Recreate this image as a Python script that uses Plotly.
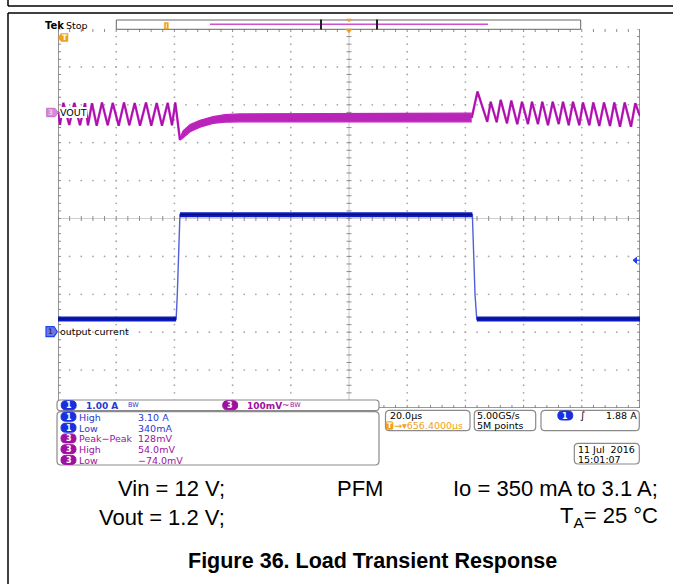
import plotly.graph_objects as go
import numpy as np

time_per_div_us = 20.0          # horizontal scale
ch1_scale_A = 1.0               # output current, A/div
ch3_scale_mV = 100.0            # VOUT, mV/div
ch1_offset_div = -3.0           # channel-1 ground marker position (div from centre)
ch3_offset_div = 2.81           # channel-3 marker position (div from centre)

# VOUT, light load (PFM ripple) before the load step: vertices (us, mV)
vout1_t = [0.0, 0.69, 1.82, 3.88, 5.60, 7.56, 9.28, 10.31, 11.68, 13.30, 15.12, 17.08, 18.80,
           20.86, 22.68, 24.50, 26.36, 28.18, 30.24, 32.06, 33.92, 35.74, 37.70, 39.18, 40.31, 41.92]
vout1_mV = [0, -34, 24, -34, 24, -35, 23, -35, 23, -36, 25, -35, 24,
            -36, 25, -35, 24, -36, 25, -36, 24, -36, 24, -35, 25, -74]

# VOUT during heavy load: ripple envelope (us, upper mV, lower mV)
band_t = [41.92, 43.0, 45.4, 48.8, 53.3, 57.4, 62.5, 83.2, 117.5, 142.16]
band_hi_mV = [-68, -50, -33, -22, -12, -7, -5, -4, -3, -3]
band_lo_mV = [-74, -68, -52, -40, -30, -27, -26, -26, -26, -26]

# VOUT after the load is released: vertices (us, mV)
vout2_t = [142.16, 144.16, 147.52, 148.69, 150.75, 152.13, 154.29, 155.77, 157.83, 159.45, 161.51,
           162.88, 164.94, 166.42, 168.38, 170.00, 172.06, 173.54, 175.50, 176.97, 179.14, 180.41,
           182.58, 183.95, 186.01, 187.63, 189.69, 191.17, 193.13, 194.74, 196.91, 198.38, 200.0]
vout2_mV = [-16, 54, -26, 27, -27, 32, -30, 30, -32, 27, -32,
            27, -32, 27, -35, 27, -32, 27, -35, 27, -35, 25,
            -35, 25, -37, 25, -37, 25, -39, 25, -39, 23, -11]

# Output current (us, A)
iout_t = [0.0, 40.6, 41.0, 41.5, 41.9, 142.4, 142.8, 143.3, 143.9, 200.0]
iout_A = [0.35, 0.35, 1.0, 2.4, 3.10, 3.10, 2.3, 1.0, 0.35, 0.35]

# Measurement readouts
meas_ch = ["1", "1", "3", "3", "3"]
meas_name = ["High", "Low", "Peak\u2212Peak", "High", "Low"]
meas_val = ["3.10 A", "340mA", "128mV", "54.0mV", "\u221274.0mV"]

# ---------------- geometry ----------------
W, H = 673, 584
GX0, GX1, GY0, GY1 = 58, 640, 29, 408
NX, NY = 10, 10
T_SPAN = time_per_div_us * NX
dx_px = T_SPAN / (GX1 - GX0)
dy_px = NY / (GY1 - GY0)

C1 = '#1a2ee0'
C1T = '#2a3ad0'
C3 = '#a0109f'
ORANGE = '#f0a020'
GRID = '#a8a8a8'

def px(x):
    return x / W

def py(y):
    return 1 - y / H

def P(x, y):
    return f"{px(x):.5f},{py(y):.5f}"

def poly(pts):
    return "M " + " L ".join(P(x, y) for x, y in pts) + " Z"

def rrect(x0, y0, x1, y1, r):
    return ("M " + P(x0 + r, y0) + " L " + P(x1 - r, y0) + " Q " + P(x1, y0) + " " + P(x1, y0 + r)
            + " L " + P(x1, y1 - r) + " Q " + P(x1, y1) + " " + P(x1 - r, y1)
            + " L " + P(x0 + r, y1) + " Q " + P(x0, y1) + " " + P(x0, y1 - r)
            + " L " + P(x0, y0 + r) + " Q " + P(x0, y0) + " " + P(x0 + r, y0) + " Z")

shapes = []
annos = []

def sh_path(path, fill=None, line='black', lw=1, layer='above'):
    shapes.append(dict(type='path', path=path, xref='paper', yref='paper',
                       fillcolor=fill if fill else 'rgba(0,0,0,0)',
                       line=dict(color=line, width=lw), layer=layer))

def sh_line(x0, y0, x1, y1, color='black', lw=1):
    shapes.append(dict(type='line', xref='paper', yref='paper', x0=px(x0), y0=py(y0),
                       x1=px(x1), y1=py(y1), line=dict(color=color, width=lw), layer='above'))

def txt(x, y, s, size=9.5, color='black', xa='left', ya='middle', family='DejaVu Sans', bg=None):
    d = dict(x=px(x), y=py(y), xref='paper', yref='paper', text=s, showarrow=False,
             xanchor=xa, yanchor=ya, borderpad=0, borderwidth=0,
             font=dict(size=size, color=color, family=family))
    if bg:
        d['bgcolor'] = bg
    annos.append(d)

def pill(xc, yc, label, color, w=15, h=9):
    sh_path(rrect(xc - w / 2, yc - h / 2, xc + w / 2, yc + h / 2, h / 2), fill=color, line=color, lw=1)
    txt(xc, yc + 0.5, f"<b>{label}</b>", size=8, color='white', xa='center')

fig = go.Figure()

# ---------------- graticule ----------------
t_minor = np.round(np.arange(0, T_SPAN + 1e-9, time_per_div_us / 5), 6)
y_minor = np.round(np.arange(-NY / 2, NY / 2 + 1e-9, 0.2), 6)
dots_x, dots_y = [], []
for k in range(1, NX):
    gx = k * time_per_div_us
    if k == NX // 2:
        continue
    for yv in y_minor[1:-1]:
        dots_x.append(gx); dots_y.append(yv)
for k in range(-NY // 2 + 1, NY // 2):
    if k == 0:
        continue
    for tv in t_minor[1:-1]:
        dots_x.append(tv); dots_y.append(k)
fig.add_trace(go.Scatter(x=dots_x, y=dots_y, mode='markers',
                         marker=dict(size=1.8, color=GRID), hoverinfo='skip', showlegend=False))

# centre lines
fig.add_trace(go.Scatter(x=[0, T_SPAN, None, T_SPAN / 2, T_SPAN / 2], y=[0, 0, None, -NY / 2, NY / 2],
                         mode='lines', line=dict(color='#cfcfcf', width=1.2),
                         hoverinfo='skip', showlegend=False, cliponaxis=False))
tx, ty = [], []
tk = 2.5
for tv in t_minor:
    tx += [tv, tv, None]; ty += [-tk * dy_px, tk * dy_px, None]
for yv in y_minor:
    tx += [T_SPAN / 2 - tk * dx_px, T_SPAN / 2 + tk * dx_px, None]; ty += [yv, yv, None]
# border ticks (inward)
bl = 3
for yv in y_minor:
    tx += [0, bl * dx_px, None, T_SPAN - bl * dx_px, T_SPAN, None]
    ty += [yv, yv, None, yv, yv, None]
for tv in t_minor:
    tx += [tv, tv, None, tv, tv, None]
    ty += [NY / 2, NY / 2 - bl * dy_px, None, -NY / 2, -NY / 2 + bl * dy_px, None]
fig.add_trace(go.Scatter(x=tx, y=ty, mode='lines', line=dict(color='#8c8c8c', width=1),
                         hoverinfo='skip', showlegend=False, cliponaxis=False))
# borders
fig.add_trace(go.Scatter(x=[0, 0, T_SPAN, T_SPAN], y=[NY / 2, -NY / 2, -NY / 2, NY / 2],
                         mode='lines', line=dict(color='#7a7a7a', width=1.6),
                         hoverinfo='skip', showlegend=False, cliponaxis=False))

# ---------------- waveforms ----------------
def ch1_div(v):
    return [ch1_offset_div + a / ch1_scale_A for a in v]

def ch3_div(v):
    return [ch3_offset_div + m / ch3_scale_mV for m in v]

# current: thin full trace + thick flat segments
fig.add_trace(go.Scatter(x=iout_t, y=ch1_div(iout_A), mode='lines',
                         line=dict(color='#5060d8', width=1.4), hoverinfo='skip', showlegend=False))
fx, fy = [], []
for i in range(len(iout_t) - 1):
    if iout_A[i] == iout_A[i + 1]:
        fx += [iout_t[i], iout_t[i + 1], None]
        fy += ch1_div([iout_A[i], iout_A[i + 1]]) + [None]
fig.add_trace(go.Scatter(x=fx, y=fy, mode='lines', line=dict(color='#0c1cc0', width=5),
                         hoverinfo='skip', showlegend=False, cliponaxis=False))
fig.add_trace(go.Scatter(x=fx, y=fy, mode='lines', line=dict(color='#000a80', width=1),
                         hoverinfo='skip', showlegend=False, cliponaxis=False))

# VOUT
MAG = '#c81ec8'
MAGD = '#7a0f7a'
fig.add_trace(go.Scatter(x=band_t, y=ch3_div(band_lo_mV), mode='lines',
                         line=dict(color=MAG, width=1.2), hoverinfo='skip', showlegend=False))
fig.add_trace(go.Scatter(x=band_t, y=ch3_div(band_hi_mV), mode='lines', fill='tonexty',
                         fillcolor='#b826b8', line=dict(color=MAG, width=1.2),
                         hoverinfo='skip', showlegend=False))
for tt, vv in ((vout1_t, vout1_mV), (vout2_t, vout2_mV)):
    fig.add_trace(go.Scatter(x=tt, y=ch3_div(vv), mode='lines', line=dict(color=MAG, width=2.4),
                             hoverinfo='skip', showlegend=False, cliponaxis=False))
    fig.add_trace(go.Scatter(x=tt, y=ch3_div(vv), mode='lines', line=dict(color=MAGD, width=0.6),
                             hoverinfo='skip', showlegend=False, cliponaxis=False))

# ---------------- frame / header ----------------
sh_line(8, 0, 8, 6, lw=1.5)
sh_line(8, 6, 673, 6, lw=1.5)
sh_line(8, 13, 673, 13, lw=1.5)
sh_line(8, 13, 8, 584, lw=1.5)

txt(45, 25, "<b>Tek</b>", size=10)
txt(66, 25, "Stop", size=9.5)

# record bar
sh_path(poly([(116.3, 20), (580.7, 20), (580.7, 29.3), (116.3, 29.3)]), fill='white', line='#666666', lw=1)
sh_line(210, 24.3, 488, 24.3, color='#d050d0', lw=1.5)
sh_line(321, 19.5, 321, 29.5, color='#222222', lw=2)
sh_line(377, 19.5, 377, 29.5, color='#222222', lw=2)
sh_path(poly([(164.3, 22.5), (168.3, 22.5), (168.3, 29), (164.3, 29)]), fill=ORANGE, line=ORANGE, lw=0.5)
sh_line(166.3, 23.5, 166.3, 28, color='white', lw=0.8)
sh_path(poly([(346.5, 19), (351.5, 19), (349, 22)]), fill=ORANGE, line=ORANGE, lw=0.5)
sh_path(poly([(345.5, 29), (352.5, 29), (349, 33)]), fill=ORANGE, line=ORANGE, lw=0.5)

# trigger-position marker (left)
sh_path(poly([(58, 37.5), (61, 33.5), (68, 33.5), (68, 41.5), (61, 41.5)]), fill=ORANGE, line=ORANGE, lw=0.5)
txt(64.5, 37.8, "<b>T</b>", size=7.5, color='white', xa='center')

# channel markers and labels
sh_path(poly([(46.7, 108.3), (55, 108.3), (58.3, 112.5), (55, 116.7), (46.7, 116.7)]),
        fill='#d88ad8', line='#c070c0', lw=1)
txt(51, 112.7, "3", size=7.5, color='#f4e0f4', xa='center')
txt(60, 112.5, "VOUT", size=9.5, bg='white')

sh_path(poly([(46, 326.7), (54, 326.7), (57.3, 331.7), (54, 336.7), (46, 336.7)]),
        fill='#6a78d8', line='#2040ff', lw=1.2)
txt(50.5, 331.9, "1", size=7.5, color='#101060', xa='center')
txt(59.5, 331.5, "output current", size=9.5)

# trigger level marker (right)
sh_path(poly([(633, 260.3), (636.5, 257.3), (636.5, 263.3)]), fill='#2040ff', line='#2040ff', lw=1)
sh_line(636.5, 260.3, 639.5, 260.3, color='#2040ff', lw=1.2)

# ---------------- readout boxes ----------------
BOXC = '#8a8a8a'
sh_path(rrect(57, 400, 379, 410.7, 3.5), fill='white', line=BOXC, lw=1.2)
pill(68.7, 405.3, "1", C1)
txt(86, 405.5, "<b>1.00 A</b>", size=9, color=C1T)
txt(128, 404.8, "BW", size=6.5, color=C1T)
pill(230.2, 405.3, "3", C3)
txt(247, 405.5, "<b>100mV</b>", size=9, color=C3)
txt(282, 405.0, "~", size=9, color=C3)
txt(290, 404.8, "BW", size=6.5, color=C3)

sh_path(rrect(57, 411.7, 379, 465, 4), fill='white', line=BOXC, lw=1.2)
rows_y = [416.7, 427.7, 438.4, 449.2, 459.9]
for yy, ch, nm, vl in zip(rows_y, meas_ch, meas_name, meas_val):
    col = C1 if ch == "1" else C3
    tcol = C1T if ch == "1" else C3
    pill(68.5, yy, ch, col)
    txt(78.5, yy + 0.3, nm, size=9.5, color=tcol)
    txt(137.5, yy + 0.3, vl, size=9.5, color=tcol)

sh_path(rrect(385.5, 410.3, 470, 430.7, 4), fill='white', line=BOXC, lw=1.2)
txt(389.5, 415.7, "20.0\u00b5s", size=9.5)
sh_path(rrect(386, 421.5, 393, 429.5, 1.5), fill=ORANGE, line=ORANGE, lw=0.5)
txt(389.5, 425.7, "<b>T</b>", size=7.5, color='white', xa='center')
txt(393.5, 425.7, "\u2192\u25be656.4000\u00b5s", size=9.5, color=ORANGE)

sh_path(rrect(474.3, 410.3, 535.7, 430.7, 4), fill='white', line=BOXC, lw=1.2)
txt(477.3, 415.7, "5.00GS/s", size=9.5)
txt(477.3, 425.7, "5M points", size=9.5)

sh_path(rrect(541, 410.3, 639.3, 430.7, 4), fill='white', line=BOXC, lw=1.2)
pill(565.3, 415.5, "1", C1)
txt(582.5, 415.7, "<i>\u222b</i>", size=10, xa='center')
txt(637, 415.7, "1.88 A", size=9.5, xa='right')

sh_path(rrect(574.3, 443.3, 639.3, 464, 4), fill='white', line=BOXC, lw=1.2)
txt(578, 449.7, "11 Jul  2016", size=9.5)
txt(578, 459.5, "15:01:07", size=9.5)

# ---------------- caption ----------------
CF = 'Liberation Sans'
txt(225, 488, "Vin = 12 V;", size=22, xa='right', family=CF)
txt(336.5, 488, "PFM", size=22, family=CF)
txt(658, 488, "Io = 350 mA to 3.1 A;", size=22, xa='right', family=CF)
txt(225, 517, "Vout = 1.2 V;", size=22, xa='right', family=CF)
txt(658, 517, "T<sub>A</sub>= 25 \u00b0C", size=22, xa='right', family=CF)
txt(372.5, 561, "<b>Figure 36. Load Transient Response</b>", size=21.5, xa='center', family=CF)

fig.update_layout(
    width=W, height=H, margin=dict(l=0, r=0, t=0, b=0),
    paper_bgcolor='white', plot_bgcolor='white', showlegend=False,
    xaxis=dict(domain=[GX0 / W, GX1 / W], range=[0, T_SPAN], visible=False, fixedrange=True),
    yaxis=dict(domain=[1 - GY1 / H, 1 - GY0 / H], range=[-NY / 2, NY / 2], visible=False, fixedrange=True),
    shapes=shapes, annotations=annos,
)
fig.write_html("out.html", config={'displayModeBar': False},
               post_script="document.body.style.margin='0';document.body.style.padding='0';document.body.style.overflow='hidden';")
